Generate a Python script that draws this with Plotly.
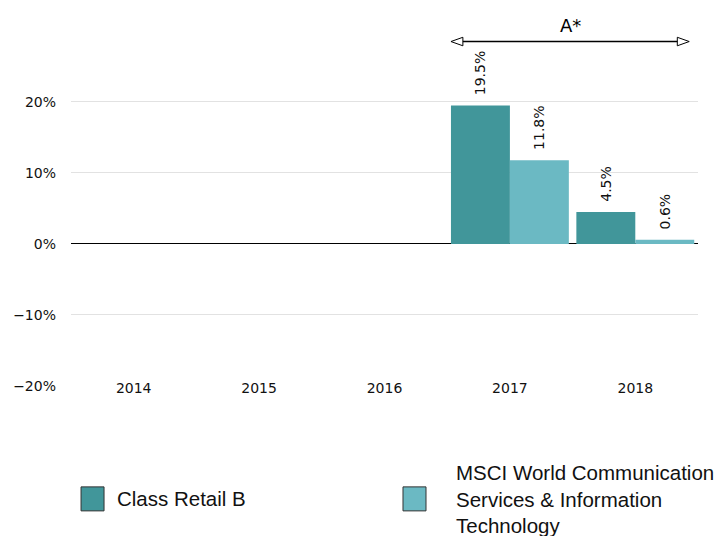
import plotly.graph_objects as go

years = ["2014", "2015", "2016", "2017", "2018"]
series_names = ["Class Retail B", "MSCI World Communication<br>Services & Information<br>Technology"]
fund_values = [None, None, None, 19.5, 4.5]
index_values = [None, None, None, 11.8, 0.6]
colors = ["#41969a", "#6bb9c3"]
y_ticks = [-20, -10, 0, 10, 20]
y_tick_labels = ["\u221220%", "\u221210%", "0%", "10%", "20%"]
period_label = "A*"

def lbl(vals):
    return [("" if v is None else "\u00a0\u2009" + f"{v:.1f}%") for v in vals]

fig = go.Figure()
for name, vals, col in [(series_names[0], fund_values, colors[0]), (series_names[1], index_values, colors[1])]:
    fig.add_trace(go.Bar(
        x=years, y=vals, name=name, marker=dict(color=col, line=dict(width=0)),
        text=lbl(vals), textposition="outside", textangle=-90,
        textfont=dict(family="DejaVu Sans", size=14, color="#111"),
        cliponaxis=False, showlegend=False,
    ))

fig.update_layout(
    width=725, height=536,
    margin=dict(l=63, r=35, t=3, b=158),
    paper_bgcolor="white", plot_bgcolor="white",
    barmode="group", bargap=0.06, bargroupgap=0,
    font=dict(family="DejaVu Sans", size=14, color="#111"),
    xaxis=dict(type="category", showgrid=False, showline=False, ticks="",
               tickfont=dict(family="DejaVu Sans", size=14), ticklabelstandoff=-8),
    yaxis=dict(range=[-20, 32.8], tickvals=y_ticks, ticktext=y_tick_labels,
               showgrid=True, gridcolor="#e2e2e2", gridwidth=1,
               zeroline=True, zerolinecolor="#000", zerolinewidth=1,
               showline=False, ticks="", ticklabelstandoff=14,
               tickfont=dict(family="DejaVu Sans", size=14)),
)

# period arrow
ya = 28.5
x0, x1 = 2.53, 4.43
fig.add_shape(type="line", xref="x", yref="y", x0=x0 + 0.09, x1=x1 - 0.09, y0=ya, y1=ya,
              line=dict(color="#000", width=1.5))
dx, dy = 0.095, 0.6
fig.add_shape(type="path", xref="x", yref="y",
              path=f"M {x0} {ya} L {x0+dx} {ya+dy} L {x0+dx} {ya-dy} Z",
              line=dict(color="#000", width=1), fillcolor="white")
fig.add_shape(type="path", xref="x", yref="y",
              path=f"M {x1} {ya} L {x1-dx} {ya+dy} L {x1-dx} {ya-dy} Z",
              line=dict(color="#000", width=1), fillcolor="white")
fig.add_annotation(x=(x0 + x1) / 2, y=ya, xref="x", yref="y", text=period_label,
                   showarrow=False, yshift=16, font=dict(family="DejaVu Sans", size=18, color="#000"))

# manual legend
leg = [(0.016, 0.0702, series_names[0], colors[0]), (0.5295, 0.6108, series_names[1], colors[1])]
for sx, tx, name, col in leg:
    fig.add_shape(type="rect", xref="paper", yref="paper", x0=sx, x1=sx + 0.0367,
                  y0=-0.333, y1=-0.269, fillcolor=col, line=dict(color="#333", width=1))
    fig.add_annotation(x=tx, y=-0.301, xref="paper", yref="paper", text=name, showarrow=False,
                       xanchor="left", yanchor="middle", align="left",
                       font=dict(family="Liberation Sans, Arial", size=20.5, color="#111"))

fig.write_html("out.html")
